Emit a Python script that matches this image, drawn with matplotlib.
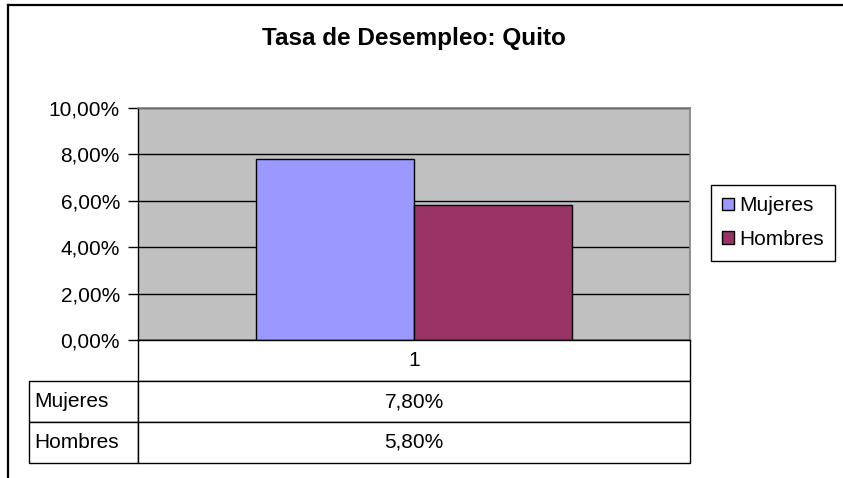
import matplotlib.pyplot as plt
from matplotlib.lines import Line2D
from matplotlib.patches import Patch, Rectangle
from matplotlib.ticker import FuncFormatter

plt.rcParams['font.family'] = ['Liberation Sans', 'DejaVu Sans']

# data
series = ['Mujeres', 'Hombres']
values = [7.80, 5.80]          # percent
colors = ['#9999FF', '#993366']
category = ['1']
yticks = [0, 2, 4, 6, 8, 10]


def pct(v):
    return f"{v:.2f}%".replace('.', ',')


W, H = 843, 478
fig = plt.figure(figsize=(W / 100, H / 100), dpi=100)
FS = 15

# plot area (pixel coords of the reference)
x0, x1, ytop, ybot = 138, 690, 108, 340
pw, ph = x1 - x0, ybot - ytop
ax = fig.add_axes([x0 / W, 1 - ybot / H, pw / W, ph / H])
ax.set_facecolor('#C0C0C0')

bw = 158 / pw
for i, (s, v, c) in enumerate(zip(series, values, colors)):
    ax.bar((i - 0.5) * bw, v, width=bw, color=c, edgecolor='black',
           linewidth=1.0, zorder=3)

ax.set_xlim(-0.5, 0.5)
ax.set_ylim(0, 10)
ax.set_yticks(yticks)
ax.yaxis.set_major_formatter(FuncFormatter(lambda v, p: pct(v)))
ax.set_xticks([])
ax.yaxis.grid(True, color='black', linewidth=1.0, zorder=1)
ax.set_axisbelow(True)
ax.tick_params(axis='y', direction='out', length=7, width=1, color='black',
               labelsize=FS, pad=6)
for side in ['top', 'right']:
    ax.spines[side].set_color('#808080')
    ax.spines[side].set_linewidth(1.2)
for side in ['left', 'bottom']:
    ax.spines[side].set_color('black')
    ax.spines[side].set_linewidth(1.0)

# data table below the plot (axes coordinates)
rh = 41 / ph
lx = (29 - x0) / pw


def cell(x, y, w, h, text, ha='center'):
    ax.add_patch(Rectangle((x, y), w, h, transform=ax.transAxes,
                           facecolor='white', edgecolor='black',
                           linewidth=1.0, clip_on=False, zorder=4))
    tx = x + w / 2 if ha == 'center' else x + 5 / pw
    ax.text(tx, y + h / 2, text, transform=ax.transAxes, ha=ha,
            va='center', fontsize=FS, zorder=5)


cell(0, -rh, 1, rh, category[0])
for i, (s, v) in enumerate(zip(series, values)):
    y = -rh * (i + 2)
    cell(lx, y, -lx, rh, s, ha='left')
    cell(0, y, 1, rh, pct(v))

ax.text(0.5, 1 + (ytop - 38) / ph, 'Tasa de Desempleo: Quito',
        transform=ax.transAxes, ha='center', va='center',
        fontsize=17.5, fontweight='bold')

# legend
handles = [Patch(facecolor=c, edgecolor='black', linewidth=1.0) for c in colors]
fig.legend(handles, series, loc='upper left',
           bbox_to_anchor=(711 / W, 1 - 185 / H), fontsize=FS,
           frameon=True, fancybox=False, edgecolor='black', framealpha=1,
           borderaxespad=0, handlelength=0.55, handleheight=0.55,
           handletextpad=0.25, labelspacing=0.7, borderpad=0.55)

# outer chart frame
fig.add_artist(Line2D([8 / W, 1], [1 - 5 / H, 1 - 5 / H], color='black',
                      linewidth=1.6, transform=fig.transFigure))
fig.add_artist(Line2D([8 / W, 8 / W], [1 - 5 / H, 0], color='black',
                      linewidth=1.6, transform=fig.transFigure))

fig.savefig('out.png', dpi=100)
